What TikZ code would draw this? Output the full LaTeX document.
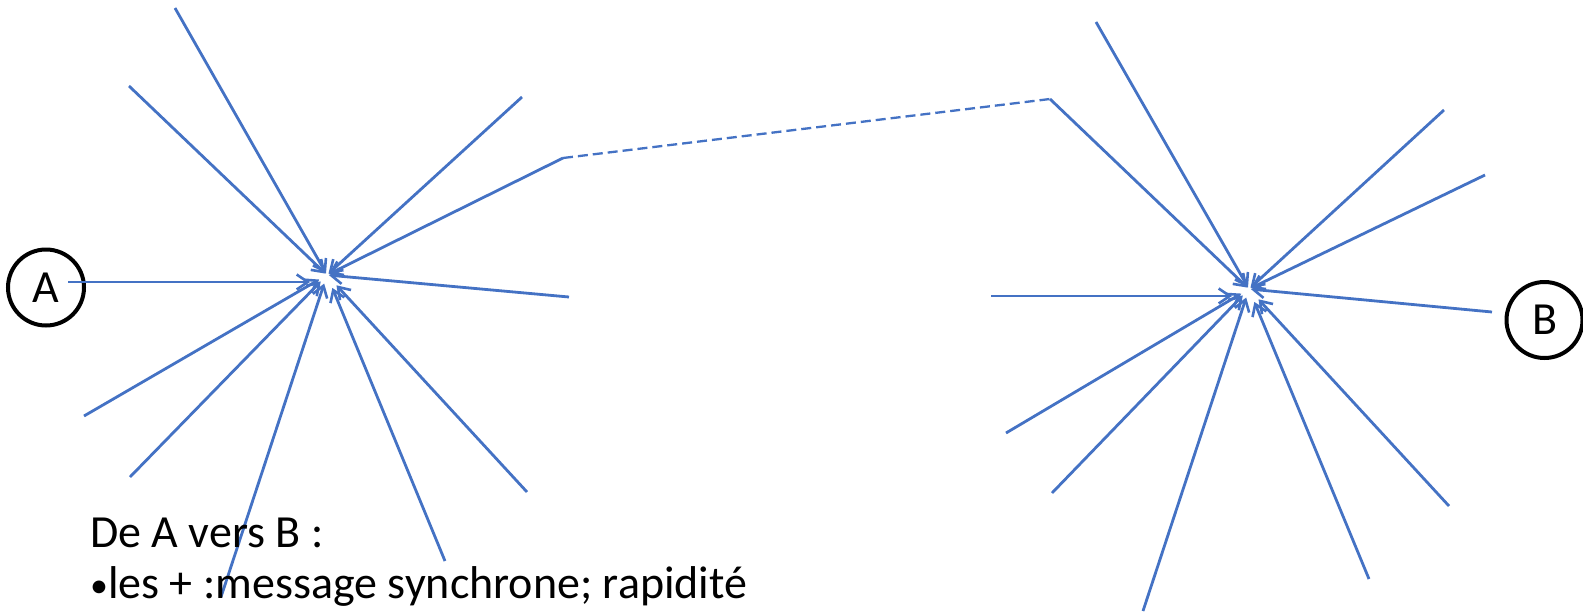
\documentclass[tikz,border=0pt]{standalone}
\usepackage{fontspec}
\setmainfont{Carlito}
\usetikzlibrary{arrows.meta}
\definecolor{linkblue}{RGB}{68,114,196}
\tikzset{
  ray/.style={draw=linkblue, line width=2.8pt, -{Straight Barb[length=11pt,width=15pt,line width=2.6pt]}},
  link/.style={draw=linkblue, line width=2.3pt, dash pattern=on 10pt off 5pt},
  station/.style={circle, draw=black, line width=4pt, minimum size=76pt, inner sep=0pt, font=\fontsize{46}{55}\selectfont},
  caption/.style={anchor=base west, inner sep=0pt, font=\fontsize{46}{55}\selectfont}
}
\begin{document}
\begin{tikzpicture}[x=1pt,y=-1pt]
\useasboundingbox (0,0) rectangle (1583,614);
\clip (0,0) rectangle (1583,614);

% stations
\node[station] (A) at (46,287.5) {A};
\node[station] (B) at (1544.5,320) {B};

% left star
\coordinate (cL) at (327,275);
\coordinate (l1) at (175,8);
\coordinate (l2) at (129,86);
\coordinate (l3) at (522,97);
\coordinate (l4) at (563,158);
\coordinate (l6) at (569,297);
\coordinate (l7) at (84,416);
\coordinate (l8) at (130,477);
\coordinate (l9) at (527,492);
\coordinate (l10) at (221,597);
\coordinate (l11) at (445,561);
\coordinate (aS) at (68,282);
\coordinate (aT) at (310,282);

\draw[ray] (aS) -- (aT);
\foreach \p in {l1,l2,l3,l4,l6}{\draw[ray, shorten >=2pt] (\p) -- (cL);}
\foreach \p in {l7,l8,l10}{\draw[ray, shorten >=9pt] (\p) -- (cL);}
\foreach \p in {l9,l11}{\draw[ray, shorten >=14pt] (\p) -- (cL);}

% right star
\coordinate (cR) at (1249,289);
\coordinate (r1) at (1096,22);
\coordinate (r2) at (1050,99);
\coordinate (r3) at (1444,110);
\coordinate (r4) at (1485,175);
\coordinate (r6) at (1492,312);
\coordinate (r7) at (1006,433);
\coordinate (r8) at (1052,493);
\coordinate (r9) at (1449,506);
\coordinate (r10) at (1143,611);
\coordinate (r11) at (1369,579);
\coordinate (hS) at (991,296);
\coordinate (hT) at (1232,296);

\draw[ray] (hS) -- (hT);
\foreach \p in {r1,r2,r3,r4,r6}{\draw[ray, shorten >=2pt] (\p) -- (cR);}
\foreach \p in {r7,r8,r10}{\draw[ray, shorten >=9pt] (\p) -- (cR);}
\foreach \p in {r9,r11}{\draw[ray, shorten >=14pt] (\p) -- (cR);}

% link between the two stars
\draw[link] (l4) -- (r2);

% caption
\node[caption] (t1) at (90,547) {De A vers B :};
\node[caption] (t2) at (90,598) {{\fontsize{36}{36}\selectfont\raisebox{1pt}{•}}les + :message synchrone; rapidité};
\end{tikzpicture}
\end{document}
